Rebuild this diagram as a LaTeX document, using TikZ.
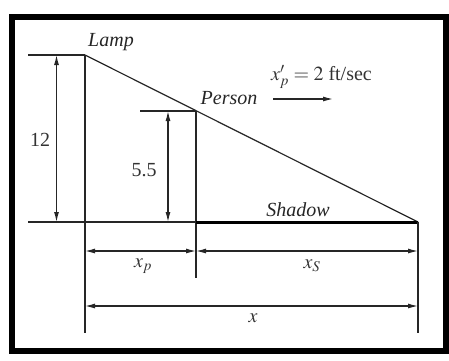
\documentclass[tikz,border=0pt]{standalone}
\usepackage{mathptmx}
\usepackage{fontspec}
\setmainfont{Liberation Serif}
\usepackage{tikz}
\usetikzlibrary{arrows.meta,calc}

\begin{document}
\begin{tikzpicture}[
  x=1pt, y=-1pt,
  font=\fontsize{20}{22}\selectfont,
  thin line/.style={line width=1.2pt, black!85},
  dim/.style={{Latex[length=10pt,width=5pt]}-{Latex[length=10pt,width=5pt]}, line width=1.2pt, black!85},
  onearrow/.style={-{Latex[length=10pt,width=5pt]}, line width=1.2pt, black!85},
  shadowline/.style={line width=3pt},
  tag/.style={font=\fontsize{20}{22}\selectfont\itshape, inner sep=1pt, black!85},
  num/.style={inner sep=1pt, black!80}
]
\useasboundingbox (0,0) rectangle (449,360);

% --- Frame ---
\draw[line width=6.5pt] (12,17) rectangle (446,351);

% --- Points ---
\coordinate (lamp) at (85,55);
\coordinate (lampfoot) at (85,222);
\coordinate (lampend) at (85,333);
\coordinate (person) at (196,111);
\coordinate (personfoot) at (196,222);
\coordinate (personend) at (196,278);
\coordinate (tip) at (418,222);
\coordinate (tipend) at (418,333);
\coordinate (lampleft) at (28,55);
\coordinate (groundleft) at (28,222);
\coordinate (personleft) at (140,111);

% --- Lamp, person and ray ---
\draw[thin line] (lampleft) -- (lamp);
\draw[thin line] (lamp) -- (lampend);
\draw[thin line] (personleft) -- (person);
\draw[thin line] (person) -- (personend);
\draw[thin line] (lamp) -- (tip);
\draw[thin line] (groundleft) -- (personfoot);
\draw[shadowline] (personfoot) -- (tip);
\draw[thin line] (tip) -- (tipend);

% --- Heights ---
\draw[dim] ($(lampleft)!0.5!(lamp)$) coordinate (hl) -- (hl |- groundleft);
\node[num] at (40,140) {12};
\draw[dim] ($(personleft)!0.5!(person)$) coordinate (hp) -- (hp |- groundleft);
\node[num] at (144,170) {5.5};

% --- Distances ---
\draw[dim] (lamp |- 0,251) coordinate (xa) -- (person |- xa);
\draw[dim] (person |- xa) -- (tip |- xa);
\node[num] at (143,266) {$x_p$};
\node[num] at (312,266) {$x_S$};
\draw[dim] (lamp |- 0,306) coordinate (xb) -- (tip |- xb);
\node[num] at (253,318) {$x$};

% --- Labels ---
\node[tag] (lamplabel) at (111,42) {Lamp};
\node[tag] (personlabel) at (229,98) {Person};
\node[tag] (shadowlabel) at (298,210) {Shadow};
\coordinate (walkstart) at (273,99);
\coordinate (walkend) at (333,99);
\draw[onearrow] (walkstart) -- (walkend);
\node[num, anchor=west] (speed) at (270,77) {$x'_p = 2$ ft/sec};

\end{tikzpicture}
\end{document}
